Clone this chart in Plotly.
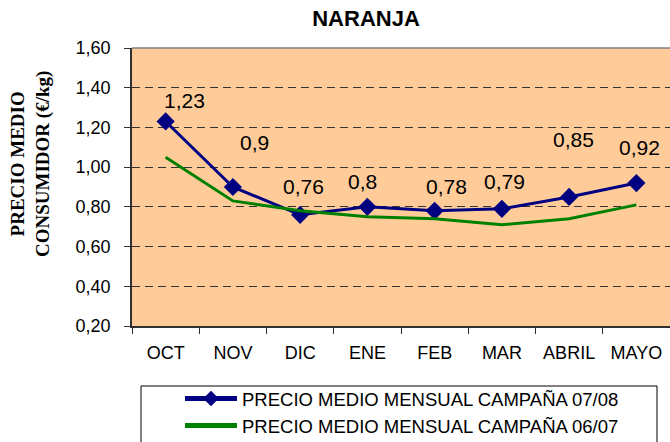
import plotly.graph_objects as go

months = ["OCT", "NOV", "DIC", "ENE", "FEB", "MAR", "ABRIL", "MAYO"]
precio_0708 = [1.23, 0.9, 0.76, 0.8, 0.78, 0.79, 0.85, 0.92]
precio_0607 = [1.05, 0.83, 0.78, 0.75, 0.74, 0.71, 0.74, 0.81]
labels_0708 = ["1,23", "0,9", "0,76", "0,8", "0,78", "0,79", "0,85", "0,92"]
y_ticks = [0.2, 0.4, 0.6, 0.8, 1.0, 1.2, 1.4, 1.6]

# pixel offsets of the data labels (style)
label_dx = [19, 22, 3, -5, 12, 3, 4, 3]
label_dy = [21, 45, 28, 25, 24, 27, 57, 36]

W, H = 670, 442
L, T, B, R = 132, 48, 116, 0

fig = go.Figure()
fig.add_trace(go.Scatter(
    x=months, y=precio_0708, mode="lines+markers",
    name="PRECIO MEDIO MENSUAL CAMPAÑA 07/08",
    line=dict(color="#000080", width=3),
    marker=dict(symbol="diamond", size=14, color="#000080"),
))
fig.add_trace(go.Scatter(
    x=months, y=precio_0607, mode="lines",
    name="PRECIO MEDIO MENSUAL CAMPAÑA 06/07",
    line=dict(color="#008000", width=3),
))

for m, v, t, dx, dy in zip(months, precio_0708, labels_0708, label_dx, label_dy):
    fig.add_annotation(x=m, y=v, text=t, showarrow=False, xshift=dx, yshift=dy,
                       xanchor="center", yanchor="middle",
                       font=dict(family="Liberation Sans, Arial", size=21, color="black"))

pw = W - L - R
ph = H - T - B

def px_x(p):
    return (p - L) / pw

def px_y(p):
    return (H - B - p) / ph

# y-axis title
fig.add_annotation(xref="paper", yref="paper", x=px_x(30), y=px_y(164),
                   text="<b>PRECIO MEDIO<br>CONSUMIDOR (€/kg)</b>", textangle=-90,
                   showarrow=False, xanchor="center", yanchor="middle",
                   font=dict(family="Liberation Serif, Times New Roman", size=19, color="black"))

# top border of plot area
fig.add_shape(type="line", xref="paper", yref="paper", x0=0, x1=1, y0=1, y1=1,
              line=dict(color="#808080", width=1.5))
# legend box
fig.add_shape(type="rect", xref="paper", yref="paper",
              x0=px_x(141), x1=px_x(657), y0=px_y(386), y1=px_y(470),
              line=dict(color="black", width=1), fillcolor="white", layer="below")

fig.update_layout(
    width=W, height=H,
    margin=dict(l=L, r=R, t=T, b=B, pad=0, autoexpand=False),
    paper_bgcolor="white", plot_bgcolor="#FFCC99",
    separators=",.",
    font=dict(family="Liberation Sans, Arial", size=18, color="black"),
    title=dict(text="<b>NARANJA</b>", x=366 / W, xanchor="center",
               yref="container", y=1 - 18 / H, yanchor="middle",
               font=dict(family="Liberation Sans, Arial", size=22, color="black")),
    showlegend=True,
    legend=dict(x=px_x(180), xanchor="left", y=px_y(380), yanchor="top",
                bgcolor="rgba(0,0,0,0)", borderwidth=0, itemwidth=52,
                itemsizing="constant",
                font=dict(family="Liberation Sans, Arial", size=18.5, color="black"),
                tracegroupgap=0),
    xaxis=dict(type="category", range=[-0.5, 7.5], showgrid=False,
               showline=True, linecolor="#303030", linewidth=1.5,
               ticks="outside", tickson="boundaries", ticklen=6, tickcolor="#303030",
               ticklabelstandoff=10),
    yaxis=dict(range=[0.2, 1.6], tickvals=y_ticks, tickformat=".2f",
               showgrid=True, gridcolor="#333333", gridwidth=1, griddash="8px,5px",
               showline=True, linecolor="#303030", linewidth=1.5,
               ticks="outside", ticklen=6, tickcolor="#303030",
               ticklabelstandoff=10, zeroline=False),
)

fig.write_html("out.html")
